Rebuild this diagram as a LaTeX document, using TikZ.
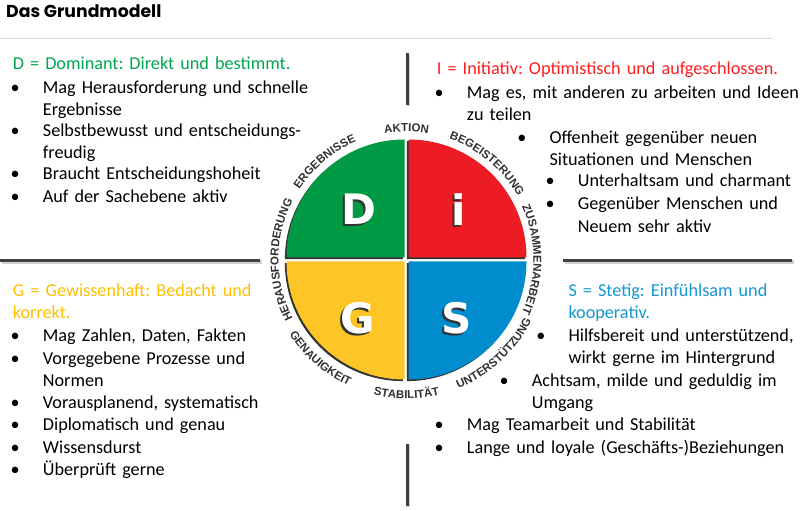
\documentclass[tikz,border=0pt]{standalone}
\usepackage{fontspec}
\setmainfont{Carlito}
\newfontfamily\bodyfam{Carlito}[WordSpace=0.7]
\newfontfamily\titlefont{Poppins}
\newfontfamily\ringfont{Liberation Sans}
\newfontfamily\letterfont{DejaVu Sans}
\newcommand\bodyfont{\bodyfam\fontsize{18.2}{22.3}\selectfont\frenchspacing}
\usetikzlibrary{positioning, calc, decorations.text}
\definecolor{qgreen}{RGB}{0,154,68}
\definecolor{qred}{RGB}{237,28,36}
\definecolor{qyellow}{RGB}{253,197,38}
\definecolor{qblue}{RGB}{0,140,205}
\definecolor{tgreen}{RGB}{0,166,80}
\definecolor{tred}{RGB}{255,30,30}
\definecolor{tyellow}{RGB}{255,192,0}
\definecolor{tblue}{RGB}{20,152,212}
\definecolor{rulegray}{RGB}{64,64,64}
\definecolor{ringgray}{RGB}{50,50,50}
\tikzset{
  txt/.style={font=\bodyfont, text=black, inner sep=0pt, anchor=base west, text width=360pt, align=left},
  headtxt/.style={txt, text=#1},
  bul/.style={font=\bodyfont, text=black, inner sep=0pt, anchor=base},
  letter/.style={font=\letterfont\bfseries\fontsize{42}{42}\selectfont, text=white, inner sep=0pt},
  letshadow/.style={letter, text=black!80},
  seprule/.style={draw=rulegray, line width=3.2pt},
  sepshade/.style={draw=black!18, line width=3.2pt},
  ringword/.style={decorate, decoration={text along path, text align=center, text color=ringgray, text={|\ringfont\bfseries\fontsize{11.5}{13}\selectfont|#1}}},
}
\begin{document}
\begin{tikzpicture}[x=1pt, y=1pt]
  \fill[white] (0,0) rectangle (801,511);
  \useasboundingbox (0,0) rectangle (801,511);

  % ---- title -----------------------------------------------------------------
  \node[font=\titlefont\bfseries\fontsize{17.3}{19}\selectfont, anchor=base west, inner sep=0pt] (title) at (6,493.7) {Das Grundmodell};
  \draw[black!14, line width=1pt] (0,472.7) -- (773,472.7);

  % ---- separators --------------------------------------------------------------
  \draw[sepshade] (1.5,249) -- (261.5,249);
  \draw[seprule] (0,250.5) -- (260,250.5);
  \draw[sepshade] (564.5,249) -- (793.5,249);
  \draw[seprule] (563,250.5) -- (792,250.5);
  \draw[sepshade] (408.8,456.2) -- (408.8,404.5);
  \draw[seprule] (407.3,457.7) -- (407.3,406);
  \draw[sepshade] (408.8,65.5) -- (408.8,3.5);
  \draw[seprule] (407.3,67) -- (407.3,5);

  % ---- disc: four quadrants --------------------------------------------------
  \coordinate (c) at (406.5,251.5);
  \foreach \a/\col in {90/qgreen, 0/qred, 180/qyellow, 270/qblue} {
    \fill[black!80] ($(c)+(\a+45:2.83)+(-1.6,-1.6)$) -- ++(\a:118) arc[start angle=\a, end angle=\a+90, radius=118] -- cycle;
    \fill[\col] ($(c)+(\a+45:2.83)$) -- ++(\a:118) arc[start angle=\a, end angle=\a+90, radius=118] -- cycle;
  }

  % ---- letters -------------------------------------------------------------
  \node[letshadow] (dsh) at (356.5,300) {D};
  \node[letter] (dlet) at (358.5,302) {D};
  \node[letshadow] (ish) at (457,299) {i};
  \node[letter] (ilet) at (459,301) {i};
  \node[letshadow] (gsh) at (355.5,191) {G};
  \node[letter] (glet) at (357.5,193) {G};
  \node[letshadow] (ssh) at (454.5,191) {S};
  \node[letter] (slet) at (456.5,193) {S};

  % ---- words round the disc ------------------------------------------------
  \path[ringword=AKTION] ($(c)+(125:128)$) arc[start angle=125, end angle=55, radius=128];
  \path[ringword=BEGEISTERUNG] ($(c)+(85:128)$) arc[start angle=85, end angle=15, radius=128];
  \path[ringword=ZUSAMMENARBEIT] ($(c)+(35:127)$) arc[start angle=35, end angle=-35, radius=127];
  \path[ringword=HERAUSFORDERUNG] ($(c)+(220:128)$) arc[start angle=220, end angle=140, radius=128];
  \path[ringword=ERGEBNISSE] ($(c)+(165:128)$) arc[start angle=165, end angle=95, radius=128];
  \path[ringword=UNTERSTÜTZUNG] ($(c)+(-82:139)$) arc[start angle=-82, end angle=-12, radius=139];
  \path[ringword=STABILITÄT] ($(c)+(-125:139)$) arc[start angle=-125, end angle=-55, radius=139];
  \path[ringword=GENAUIGKEIT] ($(c)+(-166:139)$) arc[start angle=-166, end angle=-96, radius=139];

  % ---- D block -------------------------------------------------------------
  \node[headtxt=tgreen] (dhead) at (12.7,441.7) {D = Dominant: Direkt und bestimmt.};
  \node[txt] (d1) at (42.7,417.7) {Mag Herausforderung und schnelle\\Ergebnisse};
  \node[txt] (d2) at (42.7,374.3) {Selbstbewusst und entscheidungs-\\freudig};
  \node[txt] (d3) at (42.7,331) {Braucht Entscheidungshoheit};
  \node[txt] (d4) at (42.7,308.3) {Auf der Sachebene aktiv};

  % ---- I block -------------------------------------------------------------
  \node[headtxt=tred] (ihead) at (436.7,436) {I = Initiativ: Optimistisch und aufgeschlossen.};
  \node[txt] (i1) at (466.7,412.7) {Mag es, mit anderen zu arbeiten und Ideen\\zu teilen};
  \node[txt] (i2) at (549.3,367.7) {Offenheit gegenüber neuen\\Situationen und Menschen};
  \node[txt] (i3) at (577.7,324.3) {Unterhaltsam und charmant};
  \node[txt] (i4) at (577.7,301) {Gegenüber Menschen und\\Neuem sehr aktiv};

  % ---- G block -------------------------------------------------------------
  \node[headtxt=tyellow] (ghead) at (12.7,214.3) {G = Gewissenhaft: Bedacht und\\korrekt.};
  \node[txt] (g1) at (42.7,169.3) {Mag Zahlen, Daten, Fakten};
  \node[txt] (g2) at (42.7,146.7) {Vorgegebene Prozesse und\\Normen};
  \node[txt] (g3) at (42.7,102.7) {Vorausplanend, systematisch};
  \node[txt] (g4) at (42.7,80) {Diplomatisch und genau};
  \node[txt] (g5) at (42.7,57.7) {Wissensdurst};
  \node[txt] (g6) at (42.7,35) {Überprüft gerne};

  % ---- S block -------------------------------------------------------------
  \node[headtxt=tblue] (shead) at (568.3,214.3) {S = Stetig: Einfühlsam und\\kooperativ.};
  \node[txt] (s1) at (568.3,169.3) {Hilfsbereit und unterstützend,\\wirkt gerne im Hintergrund};
  \node[txt] (s2) at (531.7,124.3) {Achtsam, milde und geduldig im\\Umgang};
  \node[txt] (s3) at (466.7,80) {Mag Teamarbeit und Stabilität};
  \node[txt] (s4) at (466.7,57.7) {Lange und loyale (Geschäfts-)Beziehungen};

  % ---- bullets -------------------------------------------------------------
  \foreach \n in {d1,d2,d3,d4,i1,i2,i3,i4,g1,g2,g3,g4,g5,g6,s1,s2,s3,s4}
    \node[bul] (\n-b) at ($(\n.base west)+(-27.5,0)$) {•};
\end{tikzpicture}
\end{document}
